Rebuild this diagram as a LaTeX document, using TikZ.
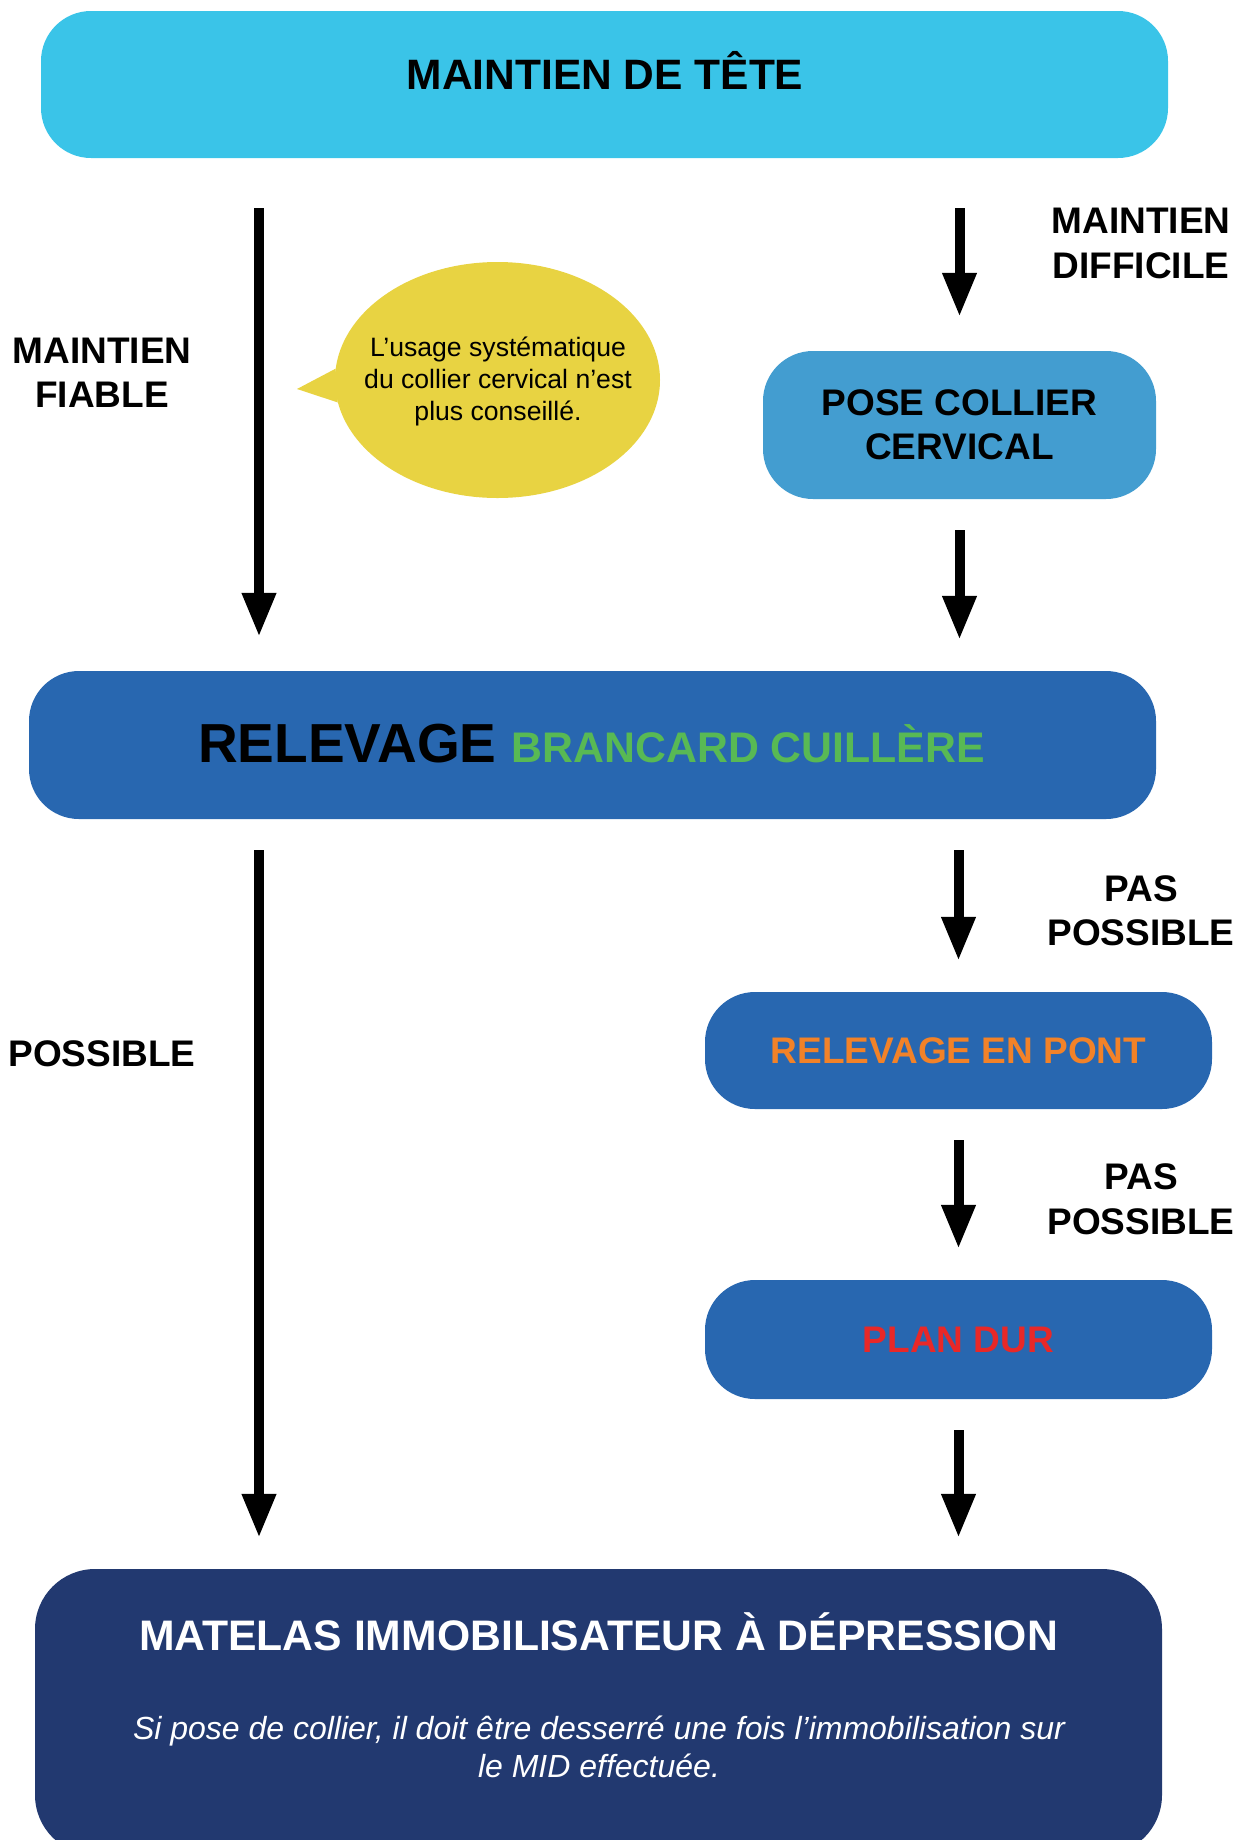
\documentclass[tikz,border=0pt]{standalone}
\usepackage{fontspec}
\setmainfont{Liberation Sans}
\usetikzlibrary{arrows.meta,shapes.geometric}

\definecolor{cyantete}{RGB}{58,196,232}
\definecolor{bleuclair}{RGB}{67,157,208}
\definecolor{bleu}{RGB}{40,103,176}
\definecolor{marine}{RGB}{34,57,112}
\definecolor{jaune}{RGB}{232,211,66}
\definecolor{vert}{RGB}{88,185,84}
\definecolor{orangepont}{RGB}{242,130,40}
\definecolor{rougeplan}{RGB}{232,40,40}

\begin{document}
\begin{tikzpicture}[x=1pt, y=-1pt,
  boite/.style={rounded corners=50pt, inner sep=0pt, align=center},
  etiquette/.style={font=\bfseries\fontsize{37}{44.5}\selectfont, align=center, inner sep=0pt},
  fleche/.style={line width=10pt, -{Triangle[width=32pt,length=44pt]}, shorten <=31pt, shorten >=31pt}]
\useasboundingbox (0,0) rectangle (1238,1840);

\node[boite, fill=cyantete, minimum width=1127pt, minimum height=147pt] (tete) at (604.5,84.5) {};
\node[etiquette, font=\bfseries\fontsize{42.5}{51}\selectfont, anchor=base] (tete-texte) at (605,89.5) {MAINTIEN DE TÊTE};

\node[boite, etiquette, fill=bleuclair, minimum width=393pt, minimum height=148pt] (collier) at (959.5,425) {POSE COLLIER\\CERVICAL};

\node[boite, fill=bleu, minimum width=1127pt, minimum height=148pt] (relevage) at (592.5,745) {};
\node[anchor=base, inner sep=0pt] (relevage-texte) at (591.5,762)
  {\bfseries\fontsize{55}{66}\selectfont RELEVAGE \textcolor{vert}{\fontsize{42.8}{51}\selectfont BRANCARD CUILLÈRE}};

\node[boite, etiquette, fill=bleu, text=orangepont, minimum width=507pt, minimum height=117pt] (pont) at (958.5,1050.5) {RELEVAGE EN PONT};
\node[boite, etiquette, fill=bleu, text=rougeplan, minimum width=507pt, minimum height=119pt] (plan) at (958.5,1339.5) {PLAN DUR};

\node[boite, fill=marine, rounded corners=60pt, minimum width=1127pt, minimum height=286pt] (matelas) at (598.5,1712) {};
\node[etiquette, text=white, font=\bfseries\fontsize{42.7}{51}\selectfont, anchor=base] (matelas-titre) at (598.5,1650) {MATELAS IMMOBILISATEUR À DÉPRESSION};
\node[text=white, font=\itshape\fontsize{32}{38}\selectfont, align=center, inner sep=0pt, anchor=north] (matelas-note) at (599,1715.5)
  {Si pose de collier, il doit être desserré une fois l’immobilisation sur\\le MID effectuée.};

\node[ellipse, fill=jaune, minimum width=325pt, minimum height=236pt, inner sep=0pt] (bulle) at (497.5,380) {};
\coordinate (pointe) at (297,389);
\fill[jaune] (bulle.176) -- (pointe) -- (bulle.188) -- cycle;
\node[align=center, inner sep=0pt, font=\fontsize{26.6}{32}\selectfont] (bulle-texte) at (498,381)
  {L’usage systématique\\du collier cervical n’est\\plus conseillé.};

\node[etiquette] (fiable) at (102,373) {MAINTIEN\\FIABLE};
\node[etiquette] (difficile) at (1141,243.5) {MAINTIEN\\DIFFICILE};
\node[etiquette] (possible) at (102,1054) {POSSIBLE};
\node[etiquette] (pas-pont) at (1141,910.6) {PAS\\POSSIBLE};
\node[etiquette] (pas-plan) at (1141,1199.3) {PAS\\POSSIBLE};

\coordinate (gauche) at (259,0);
\draw[fleche, shorten <=50pt, shorten >=34pt] (tete.south -| gauche) -- (relevage.north -| gauche);
\draw[fleche] (relevage.south -| gauche) -- (matelas.north -| gauche);
\draw[fleche, shorten <=50pt, shorten >=34pt] (tete.south -| collier) -- (collier.north);
\draw[fleche] (collier.south) -- (relevage.north -| collier);
\draw[fleche] (relevage.south -| pont) -- (pont.north);
\draw[fleche] (pont.south) -- (plan.north);
\draw[fleche] (plan.south) -- (matelas.north -| plan);
\end{tikzpicture}
\end{document}
